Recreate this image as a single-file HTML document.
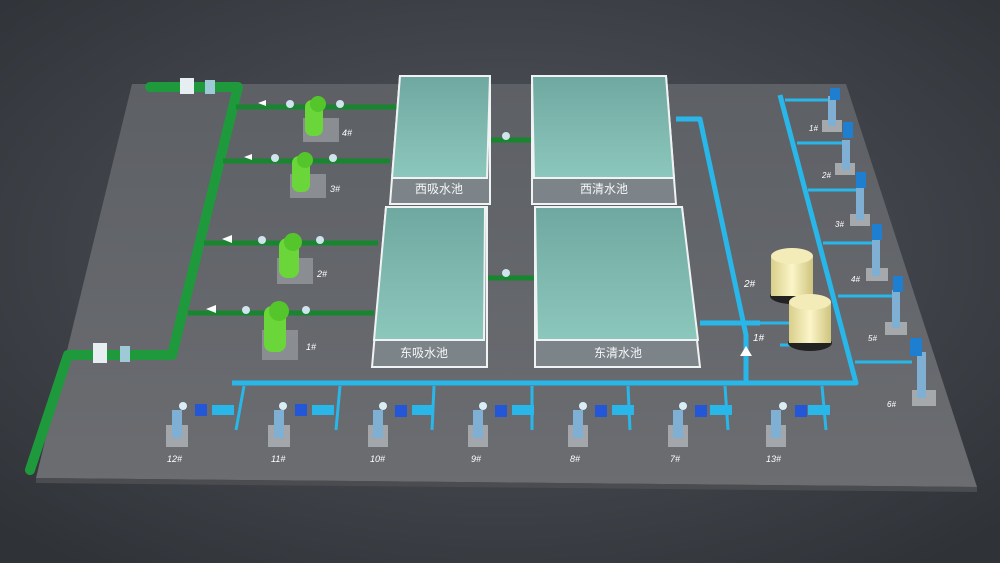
<!DOCTYPE html>
<html><head><meta charset="utf-8"><style>
html,body{margin:0;padding:0;background:#3d4147;}
svg{display:block}
text{font-family:"Liberation Sans","Noto Sans CJK SC",sans-serif;}
</style></head><body>
<svg width="1000" height="563" viewBox="0 0 1000 563" xmlns="http://www.w3.org/2000/svg">
<defs>
<radialGradient id="bg" cx="50%" cy="45%" r="70%">
<stop offset="0" stop-color="#555a61"/><stop offset="1" stop-color="#2f3237"/></radialGradient>
<linearGradient id="fl" x1="0" y1="0" x2="0" y2="1">
<stop offset="0" stop-color="#5d6065"/><stop offset="1" stop-color="#6b6d71"/></linearGradient>
<linearGradient id="wat" x1="0" y1="0" x2="0" y2="1">
<stop offset="0" stop-color="#6fa8a0"/><stop offset="1" stop-color="#8cc7bc"/></linearGradient>
<linearGradient id="cyl" x1="0" y1="0" x2="1" y2="0">
<stop offset="0" stop-color="#d8cf8a"/><stop offset="0.5" stop-color="#fbf5c8"/><stop offset="1" stop-color="#cfc47e"/></linearGradient>
</defs>
<rect width="1000" height="563" fill="url(#bg)"/>
<!-- floor -->
<polygon points="132,84 846,84 977,487 36,478" fill="url(#fl)"/>
<polygon points="36,478 977,487 977,492 36,483" fill="#4a4c50"/>

<!-- green main pipe -->
<g fill="none" stroke="#1e9a3c" stroke-width="10" stroke-linejoin="round" stroke-linecap="round">
<path d="M150,87 L238,87 L172,355 L68,355 L30,470"/>
</g>
<g fill="none" stroke="#17862f" stroke-width="5">
<line x1="236" y1="107" x2="398" y2="107"/>
<line x1="223" y1="161" x2="390" y2="161"/>
<line x1="204" y1="243" x2="378" y2="243"/>
<line x1="188" y1="313" x2="374" y2="313"/>
<line x1="487" y1="140" x2="533" y2="140"/>
<line x1="485" y1="278" x2="537" y2="278"/>
</g>
<!-- arrows -->
<g fill="#ffffff">
<polygon points="258,103 266,100 266,106"/><polygon points="244,157 252,154 252,160"/>
<polygon points="222,239 232,235 232,243"/><polygon points="206,309 216,305 216,313"/>
</g>
<!-- flow meters on main -->
<rect x="180" y="78" width="14" height="16" fill="#e6eef2"/><rect x="205" y="80" width="10" height="14" fill="#9ec9d6"/>
<rect x="93" y="343" width="14" height="20" fill="#e6eef2"/><rect x="120" y="346" width="10" height="16" fill="#9ec9d6"/>
<!-- green pumps -->
<g>
<rect x="303" y="118" width="36" height="24" fill="#8a8d91"/><rect x="305" y="100" width="18" height="36" rx="7" fill="#6bd639"/><circle cx="318" cy="104" r="8" fill="#55c52c"/>
<rect x="290" y="174" width="36" height="24" fill="#8a8d91"/><rect x="292" y="156" width="18" height="36" rx="7" fill="#6bd639"/><circle cx="305" cy="160" r="8" fill="#55c52c"/>
<rect x="277" y="258" width="36" height="26" fill="#8a8d91"/><rect x="279" y="238" width="20" height="40" rx="8" fill="#6bd639"/><circle cx="293" cy="242" r="9" fill="#55c52c"/>
<rect x="262" y="330" width="36" height="30" fill="#8a8d91"/><rect x="264" y="306" width="22" height="46" rx="8" fill="#6bd639"/><circle cx="279" cy="311" r="10" fill="#55c52c"/>
</g>
<g fill="#cfe4ec"><circle cx="290" cy="104" r="4"/><circle cx="340" cy="104" r="4"/><circle cx="275" cy="158" r="4"/><circle cx="333" cy="158" r="4"/><circle cx="262" cy="240" r="4"/><circle cx="320" cy="240" r="4"/><circle cx="246" cy="310" r="4"/><circle cx="306" cy="310" r="4"/>
<circle cx="506" cy="136" r="4"/><circle cx="506" cy="273" r="4"/></g>
<g fill="#fff" font-size="9" font-style="italic"><text x="342" y="136">4#</text><text x="330" y="192">3#</text><text x="317" y="277">2#</text><text x="306" y="350">1#</text></g>

<!-- tanks -->
<g stroke="#f0f3f4" stroke-width="2">
<polygon points="400,76 490,76 490,204 390,204" fill="#7d8489"/>
<polygon points="400,76 490,76 487,178 392,178" fill="url(#wat)"/>
<polygon points="532,76 666,76 676,204 532,204" fill="#7d8489"/>
<polygon points="532,76 666,76 674,178 534,178" fill="url(#wat)"/>
<polygon points="386,207 487,207 487,367 372,367" fill="#7d8489"/>
<polygon points="386,207 485,207 484,340 374,340" fill="url(#wat)"/>
<polygon points="535,207 682,207 700,367 535,367" fill="#7d8489"/>
<polygon points="535,207 682,207 698,340 537,340" fill="url(#wat)"/>
</g>
<g fill="#f5f7f8" font-size="12" text-anchor="middle">
<text x="439" y="193">西吸水池</text><text x="604" y="193">西清水池</text>
<text x="424" y="357">东吸水池</text><text x="618" y="357">东清水池</text>
</g>

<!-- blue pipes -->
<g fill="none" stroke="#29b6e8" stroke-width="5" stroke-linejoin="round">
<path d="M676,119 L700,119 L746,335 L746,383"/>
<path d="M700,323 L760,323"/>
<path d="M232,383 L856,383 L780,95"/>
</g>
<g fill="none" stroke="#29b6e8" stroke-width="3">
<path d="M785,100 L835,100"/><path d="M797,143 L843,143"/><path d="M808,190 L858,190"/><path d="M823,243 L872,243"/><path d="M838,296 L893,296"/><path d="M855,362 L912,362"/>
<path d="M760,323 L800,323"/><path d="M780,345 L815,345"/>
</g>
<polygon points="740,356 746,346 752,356" fill="#fff"/>
<!-- cylinders -->
<g>
<ellipse cx="792" cy="296" rx="22" ry="8" fill="#222"/>
<rect x="771" y="256" width="42" height="40" fill="url(#cyl)"/><ellipse cx="792" cy="256" rx="21" ry="8" fill="#f3ecb8"/>
<ellipse cx="810" cy="343" rx="22" ry="8" fill="#222"/>
<rect x="789" y="302" width="42" height="41" fill="url(#cyl)"/><ellipse cx="810" cy="302" rx="21" ry="8" fill="#f3ecb8"/>
</g>
<g fill="#fff" font-size="10" font-style="italic"><text x="744" y="287">2#</text><text x="753" y="341">1#</text></g>

<!-- right pumps -->
<g>
<g fill="#a6a9ac"><rect x="822" y="120" width="20" height="12"/><rect x="835" y="163" width="20" height="12"/><rect x="850" y="214" width="20" height="12"/><rect x="866" y="268" width="22" height="13"/><rect x="885" y="322" width="22" height="13"/><rect x="912" y="390" width="24" height="16"/></g>
<g fill="#7fb0d4"><rect x="828" y="96" width="8" height="30"/><rect x="842" y="140" width="8" height="30"/><rect x="856" y="186" width="8" height="34"/><rect x="872" y="238" width="8" height="38"/><rect x="892" y="290" width="8" height="38"/><rect x="917" y="352" width="9" height="46"/></g>
<g fill="#1e7fd0"><rect x="830" y="88" width="10" height="12"/><rect x="843" y="122" width="10" height="16"/><rect x="856" y="172" width="10" height="16"/><rect x="872" y="224" width="10" height="16"/><rect x="893" y="276" width="10" height="16"/><rect x="910" y="338" width="12" height="18"/></g>
</g>
<g fill="#fff" font-size="8" font-style="italic"><text x="809" y="131">1#</text><text x="822" y="178">2#</text><text x="835" y="227">3#</text><text x="851" y="282">4#</text><text x="868" y="341">5#</text><text x="887" y="407">6#</text></g>

<!-- bottom pumps -->
<g id="bp">
<g fill="none" stroke="#29b6e8" stroke-width="3">
<path d="M244,386 L236,430"/><path d="M340,386 L336,430"/><path d="M434,386 L432,430"/><path d="M532,386 L532,430"/><path d="M628,386 L630,430"/><path d="M725,386 L728,430"/><path d="M822,386 L826,430"/>
</g>
<g fill="#a3a6aa"><rect x="166" y="425" width="22" height="22"/><rect x="268" y="425" width="22" height="22"/><rect x="368" y="425" width="20" height="22"/><rect x="468" y="425" width="20" height="22"/><rect x="568" y="425" width="20" height="22"/><rect x="668" y="425" width="20" height="22"/><rect x="766" y="425" width="20" height="22"/></g>
<g fill="#7fb0d4"><rect x="172" y="410" width="10" height="28"/><rect x="274" y="410" width="10" height="28"/><rect x="373" y="410" width="10" height="28"/><rect x="473" y="410" width="10" height="28"/><rect x="573" y="410" width="10" height="28"/><rect x="673" y="410" width="10" height="28"/><rect x="771" y="410" width="10" height="28"/></g>
<g fill="#2456d8"><rect x="195" y="404" width="12" height="12"/><rect x="295" y="404" width="12" height="12"/><rect x="395" y="405" width="12" height="12"/><rect x="495" y="405" width="12" height="12"/><rect x="595" y="405" width="12" height="12"/><rect x="695" y="405" width="12" height="12"/><rect x="795" y="405" width="12" height="12"/></g>
<g fill="#29b6e8"><rect x="212" y="405" width="22" height="10"/><rect x="312" y="405" width="22" height="10"/><rect x="412" y="405" width="22" height="10"/><rect x="512" y="405" width="22" height="10"/><rect x="612" y="405" width="22" height="10"/><rect x="710" y="405" width="22" height="10"/><rect x="808" y="405" width="22" height="10"/></g>
<g fill="#d8eef4"><circle cx="183" cy="406" r="4"/><circle cx="283" cy="406" r="4"/><circle cx="383" cy="406" r="4"/><circle cx="483" cy="406" r="4"/><circle cx="583" cy="406" r="4"/><circle cx="683" cy="406" r="4"/><circle cx="783" cy="406" r="4"/></g>
</g>
<g fill="#fff" font-size="9" font-style="italic"><text x="167" y="462">12#</text><text x="241" y="462" dx="30">11#</text><text x="315" y="462" dx="55">10#</text><text x="391" y="462" dx="80">9#</text><text x="465" y="462" dx="105">8#</text><text x="539" y="462" dx="131">7#</text><text x="613" y="462" dx="153">13#</text></g>
</svg>
</body></html>
